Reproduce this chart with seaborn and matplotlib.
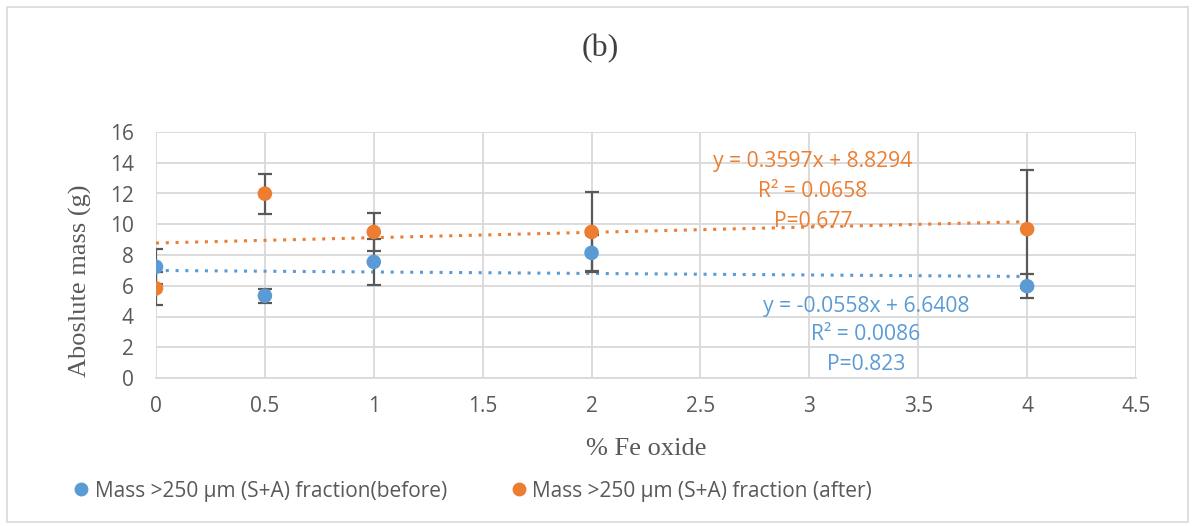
import matplotlib
matplotlib.use("Agg")
import matplotlib.pyplot as plt
import seaborn as sns
import pandas as pd
from matplotlib.patches import Rectangle
from matplotlib.lines import Line2D

fe_oxide = [0, 0.5, 1, 2, 4]
mass_before = [7.23, 5.35, 7.55, 8.14, 5.97]
err_before = [1.13, 0.47, 1.51, 1.17, 0.78]
mass_after = [5.83, 11.99, 9.50, 9.50, 9.68]
err_after = [1.09, 1.30, 1.23, 2.60, 3.83]

label_before = "Mass >250 µm (S+A) fraction(before)"
label_after = "Mass >250 µm (S+A) fraction (after)"
eq_after = ["y = 0.3597x + 8.8294", "R² = 0.0658", "P=0.677"]
eq_before = ["y = -0.0558x + 6.6408", "R² = 0.0086", "P=0.823"]

blue = "#5B9BD5"
orange = "#ED7D31"
grid_c = "#D9D9D9"
text_c = "#595959"
SANS = ["Open Sans", "DejaVu Sans"]
SERIF = ["Liberation Serif", "DejaVu Serif"]

sns.set_theme(style="white")
plt.rcParams["font.family"] = SANS

df = pd.DataFrame({"x": fe_oxide * 2,
                   "y": mass_before + mass_after,
                   "series": [label_before] * 5 + [label_after] * 5})

W, H = 1195, 526
fig = plt.figure(figsize=(W / 100, H / 100), dpi=100)
ax = fig.add_axes([156 / W, 1 - 378 / H, 980 / W, 246 / H])

# error bars
ax.errorbar(fe_oxide, mass_before, yerr=err_before, fmt="none", ecolor="#595959",
            elinewidth=1.6, capsize=5, capthick=1.6, zorder=3)
ax.errorbar(fe_oxide, mass_after, yerr=err_after, fmt="none", ecolor="#595959",
            elinewidth=1.6, capsize=5, capthick=1.6, zorder=3)

# linear trend lines
sns.regplot(x=fe_oxide, y=mass_before, ax=ax, ci=None, scatter=False, truncate=True,
            line_kws=dict(color=blue, linestyle=(0, (1, 2.2)), linewidth=2.2, zorder=2))
sns.regplot(x=fe_oxide, y=mass_after, ax=ax, ci=None, scatter=False, truncate=True,
            line_kws=dict(color=orange, linestyle=(0, (1, 2.2)), linewidth=2.2, zorder=2))

sns.scatterplot(data=df, x="x", y="y", hue="series",
                palette={label_before: blue, label_after: orange},
                s=110, edgecolor="none", ax=ax, zorder=4, legend=False)

ax.set_xlim(0, 4.5)
ax.set_ylim(0, 16)
ax.set_xticks([i * 0.5 for i in range(10)])
ax.set_xticklabels(["0", "0.5", "1", "1.5", "2", "2.5", "3", "3.5", "4", "4.5"])
ax.set_yticks(range(0, 17, 2))
ax.grid(True, color=grid_c, linewidth=1.3)
ax.set_axisbelow(True)
for s in ["top", "right", "left"]:
    ax.spines[s].set_visible(False)
ax.spines["bottom"].set_color(grid_c)
ax.spines["bottom"].set_linewidth(1.3)
ax.tick_params(axis="both", length=0, labelsize=15, colors=text_c)
ax.tick_params(axis="y", pad=16)
ax.tick_params(axis="x", pad=13)
ax.set_xlabel("")
ax.set_ylabel("")

fig.text(646 / W, 1 - 449 / H, "% Fe oxide", family=SERIF, fontsize=19, color=text_c,
         ha="center", va="center")
fig.text(80 / W, 1 - 281 / H, "Aboslute mass (g)", family=SERIF, fontsize=19, color=text_c,
         ha="center", va="center", rotation=90)
fig.text(600 / W, 1 - 49 / H, "(b)", family=SERIF, fontsize=23, color="#404040",
         ha="center", va="center")

for line, yv in zip(eq_after, [14.05, 12.10, 10.21]):
    ax.text(3.017, yv, line, color=orange, fontsize=15.2, ha="center", va="center")
for line, yv in zip(eq_before, [4.68, 2.80, 0.85]):
    ax.text(3.26, yv, line, color=blue, fontsize=15.2, ha="center", va="center")

handles = [Line2D([], [], marker="o", linestyle="none", markersize=10, color=blue,
                  markeredgewidth=0),
           Line2D([], [], marker="o", linestyle="none", markersize=10, color=orange,
                  markeredgewidth=0)]
fig.legend(handles, [label_before, label_after], loc="center left", ncol=2,
           bbox_to_anchor=(70.6 / W, 1 - 491 / H), frameon=False, fontsize=15,
           borderpad=0, borderaxespad=0, handlelength=1.0, handletextpad=0.15,
           columnspacing=2.96, labelcolor=text_c)

fig.patches.append(Rectangle((0.006, 0.008), 0.988, 0.978, transform=fig.transFigure,
                             fill=False, edgecolor="#D9D9D9", linewidth=1.2))

fig.savefig("out.png", dpi=100)
